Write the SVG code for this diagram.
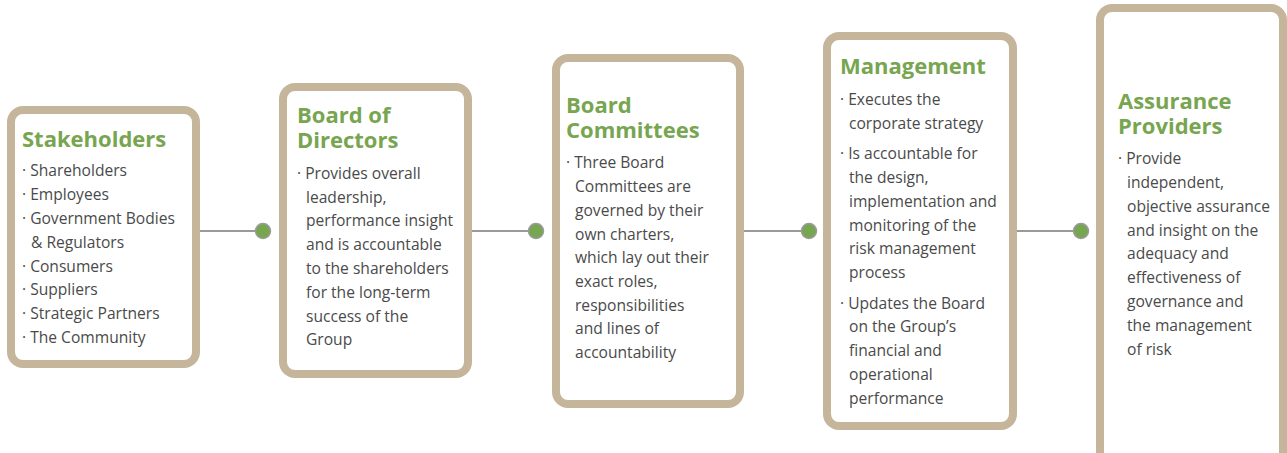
<svg xmlns="http://www.w3.org/2000/svg" width="1287" height="453" viewBox="0 0 1287 453">
<style>
.box{fill:#ffffff;stroke:#c5b59b;stroke-width:8}
.t{font-family:"Open Sans","Liberation Sans",sans-serif;font-weight:700;font-size:22px;fill:#77a550}
.b{font-family:"Open Sans","Liberation Sans",sans-serif;font-size:15.6px;fill:#4a4a4a}
.ln{stroke:#9a9a9a;stroke-width:2;fill:none}
.dot{fill:#77a550;stroke:#9a9a9a;stroke-width:1.5}
</style>
<rect width="1287" height="453" fill="#ffffff"/>
<g id="connectors">
<line class="ln" x1="200" y1="231" x2="263" y2="231"/>
<circle class="dot" cx="263" cy="231" r="7.5"/>
<line class="ln" x1="472" y1="231" x2="536" y2="231"/>
<circle class="dot" cx="536" cy="231" r="7.5"/>
<line class="ln" x1="744" y1="231" x2="809" y2="231"/>
<circle class="dot" cx="809" cy="231" r="7.5"/>
<line class="ln" x1="1017" y1="231" x2="1081" y2="231"/>
<circle class="dot" cx="1081" cy="231" r="7.5"/>
</g>
<g id="stakeholders">
<rect class="box" x="11" y="110" width="185" height="254" rx="12"/>
<text class="t" x="22" y="147">Stakeholders</text>
<text class="b" x="22" y="176">· Shareholders</text>
<text class="b" x="22" y="200">· Employees</text>
<text class="b" x="22" y="224">· Government Bodies</text>
<text class="b" x="31" y="248">&amp; Regulators</text>
<text class="b" x="22" y="272">· Consumers</text>
<text class="b" x="22" y="295">· Suppliers</text>
<text class="b" x="22" y="319">· Strategic Partners</text>
<text class="b" x="22" y="343">· The Community</text>
</g>
<g id="board-of-directors">
<rect class="box" x="283" y="87" width="185" height="287" rx="12"/>
<text class="t" x="297" y="123">Board of<tspan x="297" dy="25">Directors</tspan></text>
<text class="b" x="297" y="179">· Provides overall</text>
<text class="b" x="306" y="203">leadership,</text>
<text class="b" x="306" y="226">performance insight</text>
<text class="b" x="306" y="250">and is accountable</text>
<text class="b" x="306" y="274">to the shareholders</text>
<text class="b" x="306" y="298">for the long-term</text>
<text class="b" x="306" y="322">success of the</text>
<text class="b" x="306" y="345">Group</text>
</g>
<g id="board-committees">
<rect class="box" x="556" y="58" width="184" height="346" rx="12"/>
<text class="t" x="566" y="113">Board<tspan x="566" dy="25">Committees</tspan></text>
<text class="b" x="566" y="168">· Three Board</text>
<text class="b" x="575" y="192">Committees are</text>
<text class="b" x="575" y="216">governed by their</text>
<text class="b" x="575" y="240">own charters,</text>
<text class="b" x="575" y="263">which lay out their</text>
<text class="b" x="575" y="287">exact roles,</text>
<text class="b" x="575" y="311">responsibilities</text>
<text class="b" x="575" y="334">and lines of</text>
<text class="b" x="575" y="358">accountability</text>
</g>
<g id="management">
<rect class="box" x="827" y="36" width="186" height="390" rx="12"/>
<text class="t" x="840" y="74">Management</text>
<text class="b" x="840" y="105">· Executes the</text>
<text class="b" x="849" y="129">corporate strategy</text>
<text class="b" x="840" y="159">· Is accountable for</text>
<text class="b" x="849" y="183">the design,</text>
<text class="b" x="849" y="207">implementation and</text>
<text class="b" x="849" y="231">monitoring of the</text>
<text class="b" x="849" y="254">risk management</text>
<text class="b" x="849" y="278">process</text>
<text class="b" x="840" y="309">· Updates the Board</text>
<text class="b" x="849" y="332">on the Group’s</text>
<text class="b" x="849" y="356">financial and</text>
<text class="b" x="849" y="380">operational</text>
<text class="b" x="849" y="404">performance</text>
</g>
<g id="assurance-providers">
<rect class="box" x="1100" y="8" width="183" height="470" rx="12"/>
<text class="t" x="1118" y="109">Assurance<tspan x="1118" dy="25">Providers</tspan></text>
<text class="b" x="1118" y="164">· Provide</text>
<text class="b" x="1127" y="188">independent,</text>
<text class="b" x="1127" y="212">objective assurance</text>
<text class="b" x="1127" y="236">and insight on the</text>
<text class="b" x="1127" y="259">adequacy and</text>
<text class="b" x="1127" y="283">effectiveness of</text>
<text class="b" x="1127" y="307">governance and</text>
<text class="b" x="1127" y="331">the management</text>
<text class="b" x="1127" y="355">of risk</text>
</g>
</svg>
